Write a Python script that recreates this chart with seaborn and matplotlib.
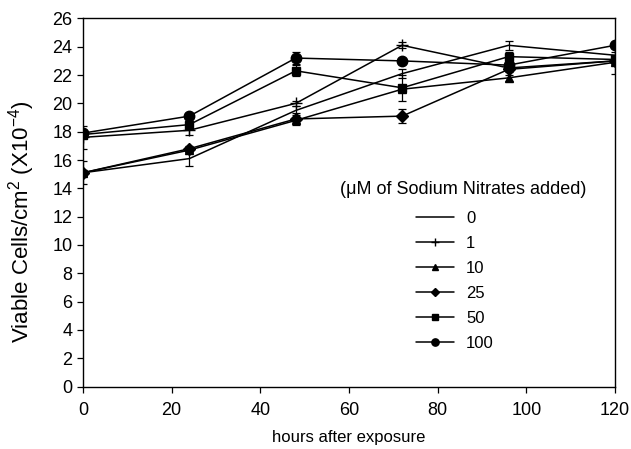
import numpy as np
import pandas as pd
import matplotlib
matplotlib.use("Agg")
import matplotlib.pyplot as plt
import seaborn as sns

sns.set_style("ticks")
plt.rcParams['font.family'] = ['Liberation Sans', 'DejaVu Sans']
plt.rcParams['mathtext.fontset'] = 'custom'
plt.rcParams['mathtext.rm'] = 'Liberation Sans'
plt.rcParams['mathtext.it'] = 'Liberation Sans'
plt.rcParams['text.color'] = 'black'
plt.rcParams['axes.labelcolor'] = 'black'

hours = [0, 24, 48, 72, 96, 120]
concs = ["0", "1", "10", "25", "50", "100"]
markers = ["", "+", "^", "D", "s", "o"]
msizes = [0, 8, 6, 6, 6, 7.5]

v0 = [15.1, 16.1, 19.5, 22.1, 24.1, 23.4]
v1 = [17.6, 18.1, 20.0, 24.1, 22.5, 23.0]
v10 = [15.1, 16.7, 18.8, 21.0, 21.8, 22.9]
v25 = [15.1, 16.8, 18.9, 19.1, 22.4, 23.0]
v50 = [17.8, 18.5, 22.3, 21.1, 23.3, 23.1]
v100 = [17.9, 19.1, 23.2, 23.0, 22.7, 24.1]

e0 = [0.8, 0.5, 0.3, 0.3, 0.3, 0.2]
e1 = [0.8, 0.3, 0.2, 0.2, 0.2, 0.9]
e10 = [0.2, 0.2, 0.2, 0.2, 0.2, 0.2]
e25 = [0.2, 0.2, 0.4, 0.5, 0.2, 0.2]
e50 = [0.2, 0.2, 0.4, 0.9, 0.3, 0.2]
e100 = [0.2, 0.2, 0.4, 0.2, 0.2, 0.2]

values = [v0, v1, v10, v25, v50, v100]
errors = [e0, e1, e10, e25, e50, e100]

fig = plt.figure(figsize=(6.31, 4.49), dpi=100)
ax = fig.add_axes([0.1315, 0.139, 0.843, 0.82])

for c, m, ms, vals, errs in zip(concs, markers, msizes, values, errors):
    df = pd.DataFrame({"hours": hours, "value": vals})
    ax.errorbar(df["hours"], df["value"], yerr=errs, fmt="none", ecolor="black",
                elinewidth=0.9, capsize=3, capthick=0.9, zorder=2)
    kw = dict(marker=m, markersize=ms, markeredgecolor="black",
              markerfacecolor="black", markeredgewidth=1.0) if m else dict(marker=None)
    sns.lineplot(data=df, x="hours", y="value", color="black", linewidth=1.1,
                 label=c, ax=ax, zorder=3, **kw)

ax.set_xlim(0, 120)
ax.set_ylim(0, 26)
ax.set_xticks(range(0, 121, 20))
ax.set_yticks(range(0, 27, 2))
ax.tick_params(direction="out", length=4, width=0.9, labelsize=13, colors="black")
ax.tick_params(axis="x", pad=7)
for s in ax.spines.values():
    s.set_visible(True)
    s.set_color("black")
    s.set_linewidth(1.0)

ax.set_xlabel("hours after exposure", fontsize=12, color="black")
ax.xaxis.set_label_coords(0.5, -0.117)
ax.set_ylabel("Viable Cells/cm$^2$ (X10$^{-4}$)", fontsize=16, color="black")
ax.yaxis.set_label_coords(-0.086, 0.447)

ax.text(0.714, 0.534, "(\u03bcM of Sodium Nitrates added)", transform=ax.transAxes,
        ha="center", va="center", fontsize=13, color="black")
leg = ax.legend(loc="upper left", bbox_to_anchor=(0.626, 0.477), frameon=False,
                borderaxespad=0, borderpad=0, fontsize=12, labelspacing=0.6,
                handlelength=2.3, handletextpad=0.7, markerscale=0.7)
for t in leg.get_texts():
    t.set_color("black")

fig.savefig("out.png", dpi=100)
